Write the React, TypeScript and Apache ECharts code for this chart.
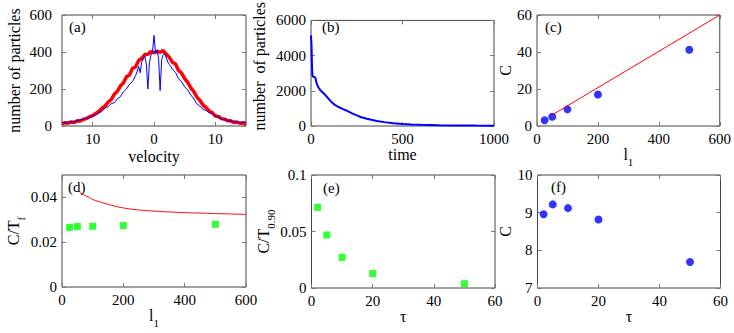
import React, { useEffect, useRef } from 'react';
import * as echarts from 'echarts';

const FONT = '"Liberation Serif", "DejaVu Serif", "Noto Serif", Tinos, "Times New Roman", serif';

// ---- (a) velocity distribution ----
const velRed = [-15,-14.5,-14,-13.5,-13,-12.5,-12,-11.5,-11,-10.5,-10,-9.5,-9,-8.5,-8,-7.5,-7,-6.5,-6,-5.5,-5,-4.5,-4,-3.5,-3,-2.5,-2,-1.5,-1,-0.5,0,0.5,1,1.5,2,2.5,3,3.5,4,4.5,5,5.5,6,6.5,7,7.5,8,8.5,9,9.5,10,10.5,11,11.5,12,12.5,13,13.5,14,14.5,15];
const redCounts = [12,18,15,22,19,28,27,37,40,50,56,68,78,95,108,128,142,170,186,216,232,266,276,312,320,354,366,386,388,402,396,404,398,408,388,372,344,336,300,286,256,236,206,186,156,138,112,100,80,72,54,51,40,37,29,28,20,21,15,16,11];
const velBlue = [-15,-14.5,-14,-13.5,-13,-12.5,-12,-11.5,-11,-10.5,-10,-9.5,-9,-8.5,-8,-7.5,-7,-6.5,-6,-5.5,-5,-4.5,-4,-3.5,-3,-2.75,-2.5,-2.25,-2,-1.75,-1.5,-1.25,-1,-0.75,-0.5,-0.25,0,0.25,0.5,0.75,1,1.25,1.5,1.75,2,2.25,2.5,2.75,3,3.5,4,4.5,5,5.5,6,6.5,7,7.5,8,8.5,9,9.5,10,10.5,11,11.5,12,12.5,13,13.5,14,14.5,15];
const blueCounts = [20,17,22,21,26,28,34,36,43,46,54,58,70,80,96,104,120,126,146,158,184,200,226,240,272,296,322,288,346,362,376,336,200,342,384,398,490,392,408,366,192,358,386,392,368,346,332,322,308,290,256,238,212,194,168,146,120,106,90,84,72,66,52,48,38,36,29,28,23,23,19,22,21];
const ticksAx = [-10, 0, 10];
const ticksAy = [0, 200, 400, 600];

// ---- (b) particles vs time ----
const timeVals = [0,3,6,8,12,20,25,30,40,50,60,75,90,100,115,130,150,175,200,225,250,275,300,330,360,400,450,500,550,600,700,800,900,1000];
const particleCounts = [5150,4500,3200,2850,2800,2780,2700,2450,2200,2050,1950,1800,1620,1500,1330,1200,1080,960,850,720,600,500,430,350,290,220,160,120,90,65,45,35,25,20];
const ticksBx = [0, 500, 1000];
const ticksBy = [0, 2000, 4000, 6000];

// ---- (c) C vs l1 ----
const l1Vals = [25, 50, 100, 200, 500];
const cVals = [3.1, 5, 9, 17, 41.2];
const fitL1 = [50, 600];
const fitC = [6, 60];
const ticksCx = [0, 200, 400, 600];
const ticksCy = [0, 20, 40, 60];

// ---- (d) C/Tf vs l1 ----
const ctfVals = [0.0266, 0.027, 0.0271, 0.0274, 0.028];
const curveL1 = [58,70,85,100,120,140,170,200,250,300,350,400,450,500,550,600];
const curveCtf = [0.0422,0.0412,0.0402,0.0391,0.0381,0.0373,0.0362,0.0353,0.0344,0.0339,0.0335,0.0332,0.0330,0.0328,0.0326,0.0324];
const ticksDx = [0, 200, 400, 600];
const ticksDy = [0, 0.02, 0.04];

// ---- (e) C/T0.90 vs tau ----
const tauVals = [2, 5, 10, 20, 50];
const ct090Vals = [0.0714, 0.0469, 0.0271, 0.0128, 0.0038];
const ticksEx = [0, 20, 40, 60];
const ticksEy = [0, 0.05, 0.1];

// ---- (f) C vs tau ----
const cTauVals = [8.96, 9.22, 9.12, 8.82, 7.69];
const ticksFx = [0, 20, 40, 60];
const ticksFy = [7, 8, 9, 10];

const zip = (xs: number[], ys: number[]) => xs.map((x, i) => [x, ys[i]]);

const richName = {
  n: { fontFamily: FONT, fontSize: 16, color: '#000', lineHeight: 16, verticalAlign: 'top' },
  s: { fontFamily: FONT, fontSize: 11, color: '#000', lineHeight: 21, verticalAlign: 'bottom' },
};

interface PanelCfg {
  grid: { left: number; top: number; width: number; height: number };
  xr: [number, number];
  yr: [number, number];
  xt: number[];
  yt: number[];
  xname: string;
  yname: string;
  xgap: number;
  ygap: number;
  xfmt?: (v: number) => string;
  ymargin?: number;
  ypad?: number[];
}

function buildPanel(i: number, c: PanelCfg) {
  const tick = (vals: number[]) => ({
    show: true,
    inside: true,
    length: 4,
    customValues: vals,
    lineStyle: { color: '#777', width: 1 },
  });
  const baseAxis = {
    gridIndex: i,
    type: 'value',
    axisLine: { show: false, onZero: false },
    splitLine: { show: false },
  };
  const xb = {
    ...baseAxis,
    min: c.xr[0],
    max: c.xr[1],
    position: 'bottom',
    axisTick: tick(c.xt),
    axisLabel: {
      customValues: c.xt,
      formatter: c.xfmt || ((v: number) => String(v)),
      color: '#000',
      fontFamily: FONT,
      fontSize: 15,
      margin: 5,
    },
    name: c.xname,
    nameLocation: 'middle',
    nameGap: c.xgap,
    nameTextStyle: { fontFamily: FONT, fontSize: 16, color: '#000', rich: richName },
  };
  const xt = {
    ...baseAxis,
    min: c.xr[0],
    max: c.xr[1],
    position: 'top',
    axisTick: tick(c.xt),
    axisLabel: { show: false },
  };
  const yl = {
    ...baseAxis,
    min: c.yr[0],
    max: c.yr[1],
    position: 'left',
    axisTick: tick(c.yt),
    axisLabel: {
      customValues: c.yt,
      formatter: (v: number) => String(v),
      color: '#000',
      fontFamily: FONT,
      fontSize: 15,
      margin: c.ymargin ?? 5,
    },
    name: c.yname,
    nameLocation: 'middle',
    nameGap: c.ygap,
    nameRotate: 90,
    nameTextStyle: { fontFamily: FONT, fontSize: 16, color: '#000', rich: richName, padding: c.ypad || 0 },
  };
  const yr = {
    ...baseAxis,
    min: c.yr[0],
    max: c.yr[1],
    position: 'right',
    axisTick: tick(c.yt),
    axisLabel: { show: false },
  };
  const grid = {
    ...c.grid,
    show: true,
    borderColor: '#444',
    borderWidth: 1,
    backgroundColor: 'transparent',
    containLabel: false,
  };
  return { grid, x: [xb, xt], y: [yl, yr] };
}

const panels: PanelCfg[] = [
  { grid: { left: 62, top: 15, width: 184, height: 111 }, xr: [-15, 15], yr: [0, 600], xt: ticksAx, yt: ticksAy,
    xname: 'velocity', yname: 'number of particles', xgap: 22, ygap: 40, ymargin: 10, xfmt: (v: number) => String(Math.abs(v)) },
  { grid: { left: 311, top: 15, width: 183, height: 111 }, xr: [0, 1000], yr: [0, 6000], xt: ticksBx, yt: ticksBy,
    xname: 'time', yname: 'number  of particles', xgap: 16, ygap: 44, ypad: [0, 0, 0, 14] },
  { grid: { left: 537, top: 15, width: 184, height: 111 }, xr: [0, 600], yr: [0, 60], xt: ticksCx, yt: ticksCy,
    xname: '{n|l}{s|1}', yname: 'C', xgap: 18, ygap: 18 },
  { grid: { left: 62, top: 175, width: 184, height: 112 }, xr: [0, 600], yr: [0, 0.05], xt: ticksDx, yt: ticksDy,
    xname: '{n|l}{s|1}', yname: '{n|C/T}{s|f}', xgap: 12, ygap: 19 },
  { grid: { left: 311.5, top: 175, width: 183.5, height: 113 }, xr: [0, 60], yr: [0, 0.1], xt: ticksEx, yt: ticksEy,
    xname: 'τ', yname: '{n|C/T}{s|0.90}', xgap: 17, ygap: 30 },
  { grid: { left: 537.5, top: 175, width: 183, height: 113 }, xr: [0, 60], yr: [7, 10], xt: ticksFx, yt: ticksFy,
    xname: 'τ', yname: 'C', xgap: 16, ygap: 18 },
];

const panelLabels = [
  { t: '(a)', x: 69, y: 19 },
  { t: '(b)', x: 322, y: 19 },
  { t: '(c)', x: 545, y: 19 },
  { t: '(d)', x: 68, y: 179 },
  { t: '(e)', x: 323, y: 180 },
  { t: '(f)', x: 551, y: 179 },
];

function buildOption() {
  const grids: any[] = [];
  const xAxes: any[] = [];
  const yAxes: any[] = [];
  panels.forEach((p, i) => {
    const b = buildPanel(i, p);
    grids.push(b.grid);
    xAxes.push(...b.x);
    yAxes.push(...b.y);
  });
  const ax = (i: number) => ({ xAxisIndex: 2 * i, yAxisIndex: 2 * i });
  const series: any[] = [
    { type: 'line', ...ax(0), data: zip(velRed, redCounts), showSymbol: false, lineStyle: { color: '#ff0000', width: 3.5 } },
    { type: 'line', ...ax(0), data: zip(velBlue, blueCounts), showSymbol: false, lineStyle: { color: '#0000ff', width: 1 } },
    { type: 'line', ...ax(1), data: zip(timeVals, particleCounts), showSymbol: false, lineStyle: { color: '#0000ff', width: 2 } },
    { type: 'line', ...ax(2), data: zip(fitL1, fitC), showSymbol: false, lineStyle: { color: '#ff0000', width: 1 } },
    { type: 'scatter', ...ax(2), data: zip(l1Vals, cVals), symbol: 'circle', symbolSize: 8, itemStyle: { color: '#0000ff' } },
    { type: 'line', ...ax(3), data: zip(curveL1, curveCtf), smooth: true, showSymbol: false, lineStyle: { color: '#ff0000', width: 1 } },
    { type: 'scatter', ...ax(3), data: zip(l1Vals, ctfVals), symbol: 'rect', symbolSize: 7, itemStyle: { color: '#00ff00' } },
    { type: 'scatter', ...ax(4), data: zip(tauVals, ct090Vals), symbol: 'rect', symbolSize: 7, itemStyle: { color: '#00ff00' } },
    { type: 'scatter', ...ax(5), data: zip(tauVals, cTauVals), symbol: 'circle', symbolSize: 8, itemStyle: { color: '#0000ff' } },
  ];
  const graphic = panelLabels.map((l) => ({
    type: 'text',
    x: l.x,
    y: l.y,
    z: 100,
    style: {
      text: l.t,
      fill: '#000',
      fontFamily: FONT,
      fontSize: 15,
      textAlign: 'left',
      textVerticalAlign: 'top',
      align: 'left',
      verticalAlign: 'top',
    },
  }));
  return {
    animation: false,
    backgroundColor: '#fff',
    textStyle: { fontFamily: FONT },
    grid: grids,
    xAxis: xAxes,
    yAxis: yAxes,
    series,
    graphic,
  };
}

export default function App() {
  const ref = useRef<HTMLDivElement>(null);
  useEffect(() => {
    document.body.style.margin = '0';
    if (!ref.current) return;
    const chart = echarts.init(ref.current, undefined, { renderer: 'svg' });
    chart.setOption(buildOption() as any);
    return () => chart.dispose();
  }, []);
  return <div ref={ref} style={{ width: 734, height: 333 }} />;
}
